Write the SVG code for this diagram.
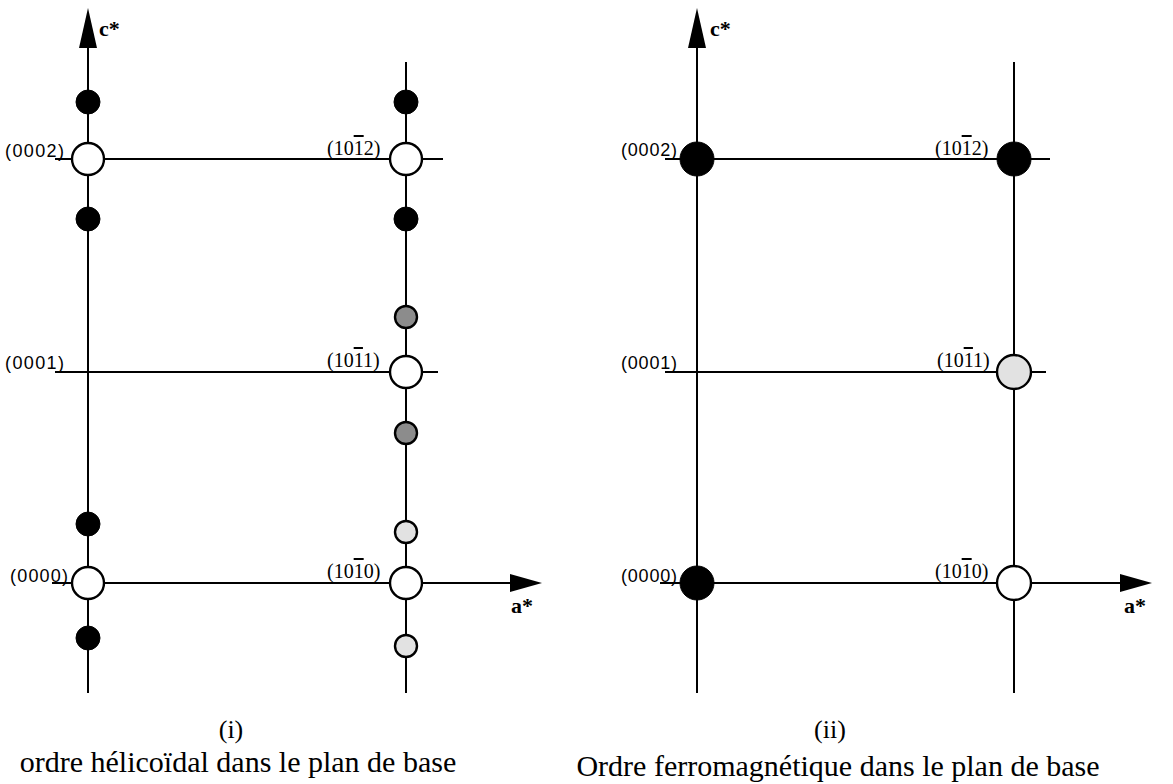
<svg xmlns="http://www.w3.org/2000/svg" width="1173" height="784" viewBox="0 0 1173 784">
<style>
.ln{stroke:#000;stroke-width:2;fill:none}
.open{fill:#fff;stroke:#000;stroke-width:2.4}
.blk{fill:#000;stroke:#000;stroke-width:1}
.gry{fill:#8c8c8c;stroke:#000;stroke-width:2.4}
.lgt{fill:#e2e2e2;stroke:#000;stroke-width:2.4}
.lbs{font-family:"Liberation Sans",Arial,sans-serif;font-size:18px;fill:#000}
.lbr{font-family:"Liberation Serif","Times New Roman",serif;font-size:20px;fill:#000}
.ax{font-family:"Liberation Serif","Times New Roman",serif;font-size:22px;font-weight:bold;fill:#000}
.cap{font-family:"Liberation Serif","Times New Roman",serif;font-size:30px;fill:#000;text-anchor:middle}
.ov{text-decoration:overline}
</style>
<g id="connectors">
<!-- panel i -->
<line class="ln" x1="88" y1="693" x2="88" y2="44"/>
<polygon points="88,8 79,48 97,48" fill="#000"/>
<line class="ln" x1="406" y1="62" x2="406" y2="693"/>
<line class="ln" x1="55" y1="159" x2="443" y2="159"/>
<line class="ln" x1="55" y1="372" x2="438" y2="372"/>
<line class="ln" x1="52" y1="583" x2="515" y2="583"/>
<polygon points="542,583 510,574 510,592" fill="#000"/>
<!-- panel ii -->
<line class="ln" x1="697" y1="693" x2="697" y2="44"/>
<polygon points="697,8 688,48 706,48" fill="#000"/>
<line class="ln" x1="1014" y1="62" x2="1014" y2="693"/>
<line class="ln" x1="665" y1="159" x2="1050" y2="159"/>
<line class="ln" x1="665" y1="372" x2="1046" y2="372"/>
<line class="ln" x1="660" y1="583" x2="1125" y2="583"/>
<polygon points="1152,583 1120,574 1120,592" fill="#000"/>
</g>
<g id="axis-labels">
<text class="ax" x="99" y="36">c*</text>
<text class="ax" x="511" y="613">a*</text>
<text class="ax" x="710" y="36">c*</text>
<text class="ax" x="1124" y="613">a*</text>
</g>
<g id="panel-i-nodes">
<g id="n-i-0002"><circle class="open" cx="88" cy="159" r="16"/><text class="lbs" x="5" y="157" textLength="59">(0002)</text></g>
<g id="n-i-1012"><circle class="open" cx="406" cy="159" r="16"/><text class="lbr" x="327" y="155">(10<tspan class="ov">1</tspan>2)</text></g>
<g id="n-i-0001"><text class="lbs" x="5" y="369" textLength="59">(0001)</text></g>
<g id="n-i-1011"><circle class="open" cx="406" cy="372" r="16"/><text class="lbr" x="327" y="367">(10<tspan class="ov">1</tspan>1)</text></g>
<g id="n-i-0000"><circle class="open" cx="88" cy="583" r="16"/><text class="lbs" x="10" y="582" textLength="58">(0000)</text></g>
<g id="n-i-1010"><circle class="open" cx="406" cy="583" r="16"/><text class="lbr" x="327" y="578">(10<tspan class="ov">1</tspan>0)</text></g>
<g id="sat-i-a"><circle class="blk" cx="88" cy="102" r="12"/></g>
<g id="sat-i-b"><circle class="blk" cx="88" cy="219" r="12"/></g>
<g id="sat-i-c"><circle class="blk" cx="406" cy="102" r="12"/></g>
<g id="sat-i-d"><circle class="blk" cx="406" cy="219" r="12"/></g>
<g id="sat-i-e"><circle class="gry" cx="406" cy="317" r="11"/></g>
<g id="sat-i-f"><circle class="gry" cx="406" cy="433" r="11"/></g>
<g id="sat-i-g"><circle class="blk" cx="88" cy="524" r="12"/></g>
<g id="sat-i-h"><circle class="blk" cx="88" cy="638" r="12"/></g>
<g id="sat-i-i"><circle class="lgt" cx="406" cy="532" r="11"/></g>
<g id="sat-i-j"><circle class="lgt" cx="406" cy="646" r="11"/></g>
</g>
<g id="panel-ii-nodes">
<g id="n-ii-0002"><circle class="blk" cx="697" cy="159" r="17"/><text class="lbs" x="621" y="156" textLength="56">(0002)</text></g>
<g id="n-ii-1012"><circle class="blk" cx="1014" cy="159" r="17"/><text class="lbr" x="935" y="155">(10<tspan class="ov">1</tspan>2)</text></g>
<g id="n-ii-0001"><text class="lbs" x="621" y="369" textLength="56">(0001)</text></g>
<g id="n-ii-1011"><circle class="lgt" cx="1014" cy="372" r="17"/><text class="lbr" x="937" y="367">(10<tspan class="ov">1</tspan>1)</text></g>
<g id="n-ii-0000"><circle class="blk" cx="697" cy="583" r="17"/><text class="lbs" x="621" y="582" textLength="56">(0000)</text></g>
<g id="n-ii-1010"><circle class="open" cx="1014" cy="583" r="17"/><text class="lbr" x="935" y="578">(10<tspan class="ov">1</tspan>0)</text></g>
</g>
<g id="captions">
<text class="cap" x="231" y="738" style="font-size:26px">(i)</text>
<text class="cap" x="238" y="772">ordre hélicoïdal dans le plan de base</text>
<text class="cap" x="830" y="738" style="font-size:26px">(ii)</text>
<text class="cap" x="838" y="776">Ordre ferromagnétique dans le plan de base</text>
</g>
</svg>
